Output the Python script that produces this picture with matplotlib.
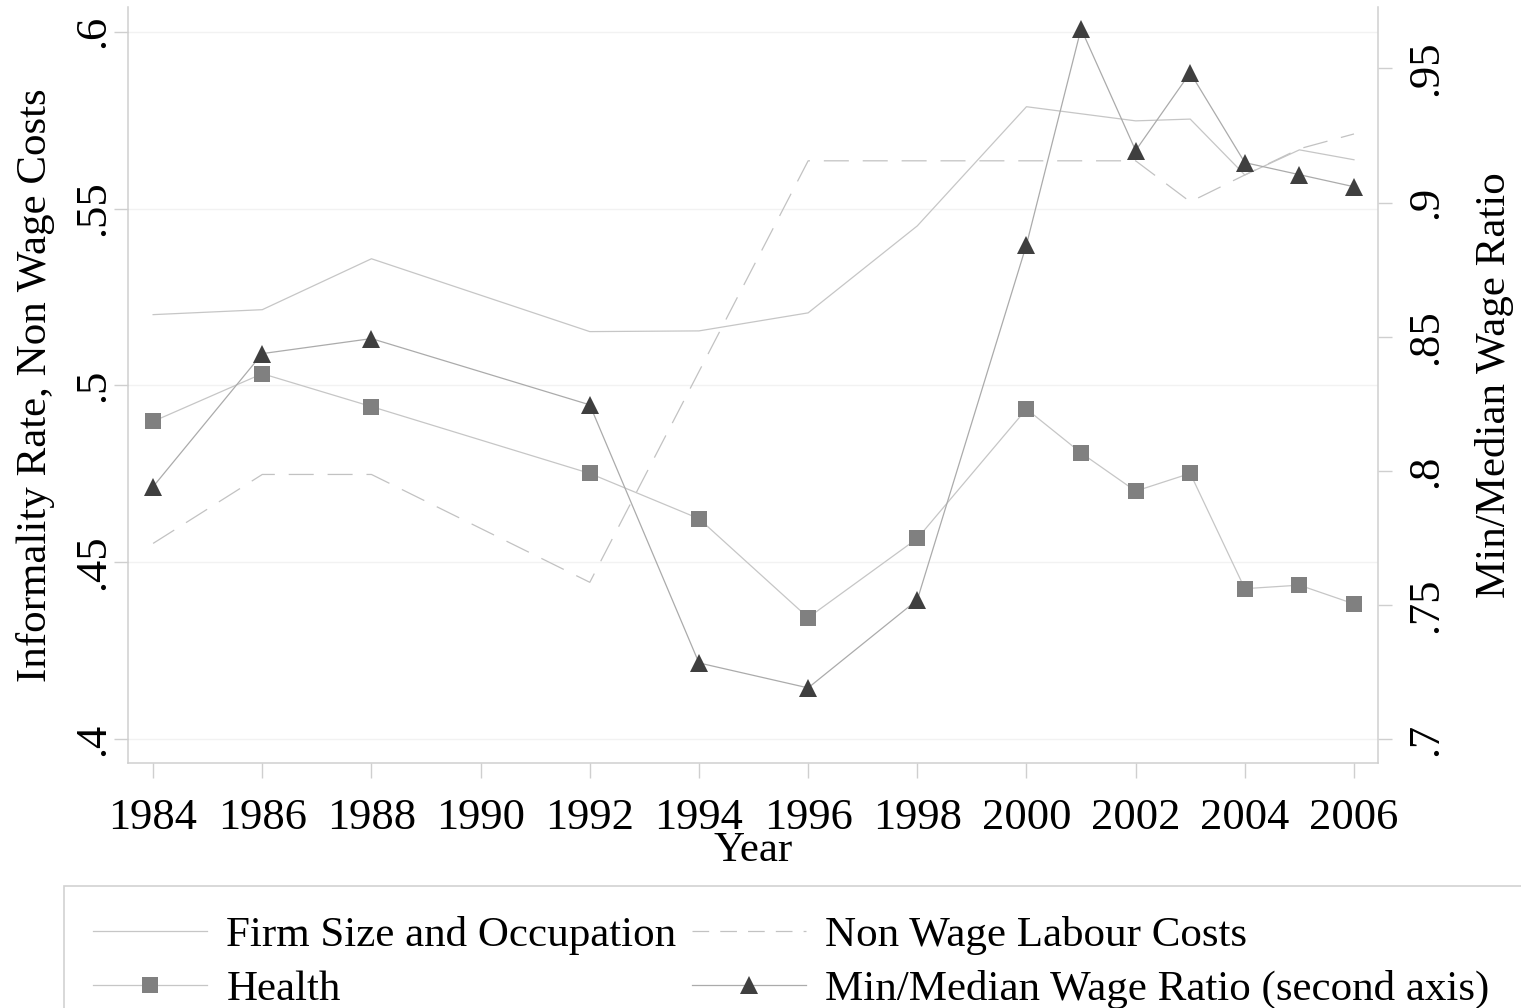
import matplotlib
matplotlib.use('Agg')
import matplotlib.pyplot as plt
from matplotlib.patches import Rectangle
from matplotlib.lines import Line2D

plt.rcParams['font.family'] = ['Liberation Serif', 'DejaVu Serif']
plt.rcParams['lines.scale_dashes'] = False

# ---------------- data ----------------
years_firm = [1984, 1986, 1988, 1992, 1994, 1996, 1998, 2000, 2002, 2003, 2004, 2005, 2006]
firm_size_occ = [0.5200, 0.5214, 0.5358, 0.5152, 0.5154, 0.5205, 0.5451, 0.5788,
                 0.5748, 0.5753, 0.5595, 0.5666, 0.5638]

years_nwlc = [1984, 1986, 1988, 1992, 1996, 2000, 2002, 2003, 2004, 2005, 2006]
non_wage_costs = [0.4553, 0.4748, 0.4748, 0.4443, 0.5635, 0.5635, 0.5635, 0.5519,
                  0.5595, 0.5669, 0.5711]

years = [1984, 1986, 1988, 1992, 1994, 1996, 1998, 2000, 2001, 2002, 2003, 2004, 2005, 2006]
health = [0.4898, 0.5033, 0.4940, 0.4751, 0.4623, 0.4343, 0.4567, 0.4933, 0.4809,
          0.4701, 0.4751, 0.4425, 0.4435, 0.4382]
min_median_ratio = [0.7941, 0.8437, 0.8493, 0.8246, 0.7284, 0.7191, 0.7519, 0.8843,
                    0.9648, 0.9194, 0.9484, 0.9149, 0.9104, 0.9059]

xticks = [1984, 1986, 1988, 1990, 1992, 1994, 1996, 1998, 2000, 2002, 2004, 2006]
left_ticks = [0.4, 0.45, 0.5, 0.55, 0.6]
left_ticklabels = ['.4', '.45', '.5', '.55', '.6']
right_ticks = [0.7, 0.75, 0.8, 0.85, 0.9, 0.95]
right_ticklabels = ['.7', '.75', '.8', '.85', '.9', '.95']

labels = ['Firm Size and Occupation', 'Health', 'Non Wage Labour Costs',
          'Min/Median Wage Ratio (second axis)']

# ---------------- figure ----------------
W, H = 1521, 1008
fig = plt.figure(figsize=(W / 100, H / 100), dpi=100)
ax = fig.add_axes([128 / W, 1 - 763 / H, (1378 - 128) / W, (763 - 7) / H])
ax2 = ax.twinx()

FS = 31
TFS = 32
spine_c = '#cfcfcf'

# gridlines
for t in left_ticks:
    ax.axhline(t, color='#f2f2f2', lw=1.0, zorder=0)

ax.plot(years_firm, firm_size_occ, color='#c6c6c6', lw=0.9, zorder=2)
ax.plot(years_nwlc, non_wage_costs, color='#c2c2c2', lw=0.9, dashes=(18, 10), zorder=2)
ax.plot(years, health, color='#c6c6c6', lw=0.9, marker='s', ms=12,
        mfc='#808080', mec='#808080', mew=0, zorder=3)
ax2.plot(years, min_median_ratio, color='#ababab', lw=0.9, marker='^', ms=13,
         mfc='#3f3f3f', mec='#3f3f3f', mew=0, zorder=3)

ax.set_xlim(1983.54, 2006.44)
ax.set_ylim(0.3932, 0.607)
ax2.set_ylim(0.6911, 0.9729)

ax.set_xticks(xticks)
ax.set_xticklabels([str(x) for x in xticks], fontsize=TFS)
ax.set_yticks(left_ticks)
ax.set_yticklabels(left_ticklabels, fontsize=TFS, rotation=90, va='center')
ax2.set_yticks(right_ticks)
ax2.set_yticklabels(right_ticklabels, fontsize=TFS, rotation=90, va='center')

for a in (ax, ax2):
    a.spines['top'].set_visible(False)
    for s in ('left', 'right', 'bottom'):
        a.spines[s].set_color(spine_c)
        a.spines[s].set_linewidth(1.1)
ax.spines['right'].set_visible(False)
ax2.spines['left'].set_visible(False)
ax2.spines['bottom'].set_visible(False)

ax.tick_params(axis='x', length=11, width=1.0, color=spine_c, pad=14.5)
ax.tick_params(axis='y', length=10, width=1.0, color=spine_c, pad=0.5)
ax2.tick_params(axis='y', length=10, width=1.0, color=spine_c, pad=10)

ax.set_xlabel('Year', fontsize=FS, labelpad=-5)
ax.set_ylabel('Informality Rate, Non Wage Costs', fontsize=FS)
ax.yaxis.set_label_coords(-0.0584, 0.5)
ax2.set_ylabel('Min/Median Wage Ratio', fontsize=FS, rotation=90)
ax2.yaxis.set_label_coords(1.0775, 0.5)

# legend box
fig.add_artist(Rectangle((64 / W, -0.2), 1.2, 0.2 + (1 - 886 / H),
                         transform=fig.transFigure, fill=False,
                         edgecolor='#d2d2d2', lw=1.2))

h_firm = Line2D([], [], color='#c6c6c6', lw=0.9)
h_h = Line2D([], [], color='#c6c6c6', lw=0.9, marker='s', ms=12, mfc='#808080', mew=0)
h_nw = Line2D([], [], color='#c2c2c2', lw=0.9, dashes=(12, 8))
h_m = Line2D([], [], color='#ababab', lw=0.9, marker='^', ms=13, mfc='#3f3f3f', mew=0)

fig.legend([h_firm, h_h, h_nw, h_m], labels, loc='upper left',
           bbox_to_anchor=(93 / W, 1 - 916 / H), ncol=2, frameon=False,
           fontsize=FS, handlelength=2.65, handletextpad=0.45, columnspacing=0.35,
           labelspacing=0.34, borderaxespad=0, borderpad=0)

fig.savefig('out.png', dpi=100)
